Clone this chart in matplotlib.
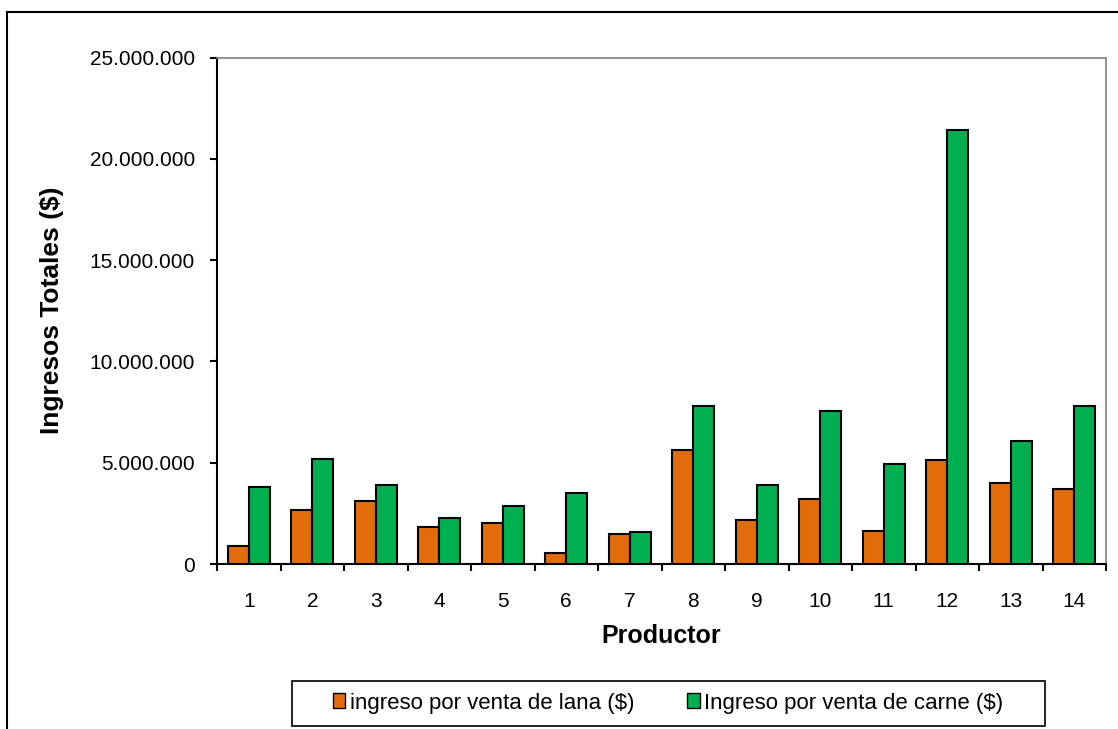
import numpy as np
import matplotlib
matplotlib.use("Agg")
import matplotlib.pyplot as plt
from matplotlib.lines import Line2D
from matplotlib.patches import Rectangle, Patch
from matplotlib.ticker import FuncFormatter

plt.rcParams['font.family'] = ['Liberation Sans', 'DejaVu Sans']

# data
productores = list(range(1, 15))
lana = [0.87, 2.69, 3.12, 1.82, 2.00, 0.52, 1.48, 5.63, 2.17, 3.22, 1.64, 5.12, 3.99, 3.72]
carne = [3.82, 5.20, 3.90, 2.27, 2.87, 3.48, 1.56, 7.81, 3.90, 7.55, 4.94, 21.44, 6.07, 7.81]
lana = np.array(lana) * 1e6
carne = np.array(carne) * 1e6
series_labels = ["ingreso por venta de lana ($)", "Ingreso por venta de carne ($)"]

naranja = "#E36C0A"
verde = "#00B050"

W, H = 1118, 729
fig = plt.figure(figsize=(W / 100, H / 100), dpi=100)
ax = fig.add_axes([217 / W, 1 - 564 / H, (1106 - 217) / W, (564 - 57.5) / H])

x = np.arange(1, 15)
w = 1 / 3
ax.bar(x - w / 2, lana, width=w, color=naranja, edgecolor="black", linewidth=1.5, zorder=3)
ax.bar(x + w / 2, carne, width=w, color=verde, edgecolor="black", linewidth=1.5, zorder=3)

ax.set_xlim(0.5, 14.5)
ax.set_ylim(0, 25e6)
ax.set_yticks(np.arange(0, 25e6 + 1, 5e6))
ax.yaxis.set_major_formatter(FuncFormatter(lambda v, p: f"{int(v):,}".replace(",", ".")))

# category ticks at boundaries, labels centred
ax.set_xticks(np.arange(0.5, 15, 1))
ax.set_xticklabels([])
ax.set_xticks(x, minor=True)
ax.set_xticklabels([str(p) for p in productores], minor=True)
ax.tick_params(axis="x", which="major", direction="out", length=5, width=1.5)
ax.tick_params(axis="x", which="minor", length=0, pad=20, labelsize=15)
ax.tick_params(axis="y", direction="out", length=5, width=1.5, pad=11, labelsize=15)

for s in ["top", "right"]:
    ax.spines[s].set_color("#808080")
    ax.spines[s].set_linewidth(1.2)
for s in ["left", "bottom"]:
    ax.spines[s].set_color("black")
    ax.spines[s].set_linewidth(1.5)

fig.text(52 / W, 1 - 310 / H, "Ingresos Totales ($)", rotation=90, fontsize=19,
         fontweight="bold", ha="center", va="center")
fig.text(661 / W, 1 - 636 / H, "Productor", fontsize=18, fontweight="bold",
         ha="center", va="center")

# outer chart border (right/bottom edges fall outside the image)
fig.add_artist(Line2D([7 / W, 7 / W], [0, 1 - 12 / H], color="black", lw=1.5,
                      transform=fig.transFigure))
fig.add_artist(Line2D([7 / W, 1], [1 - 12 / H, 1 - 12 / H], color="black", lw=1.5,
                      transform=fig.transFigure))

# legend box
fig.add_artist(Rectangle((292 / W, 1 - 726 / H), (1045 - 292) / W, 45 / H,
                         transform=fig.transFigure, facecolor="white",
                         edgecolor="black", lw=1.2))
handles = [Patch(facecolor=naranja, edgecolor="black", lw=1),
           Patch(facecolor=verde, edgecolor="black", lw=1)]
fig.legend(handles, series_labels, loc="center", ncol=2,
           bbox_to_anchor=(668 / W, 1 - 703 / H), frameon=False, fontsize=16,
           handlelength=0.55, handleheight=0.65, handletextpad=0.2, columnspacing=2.4)

fig.savefig("out.png", dpi=100)
